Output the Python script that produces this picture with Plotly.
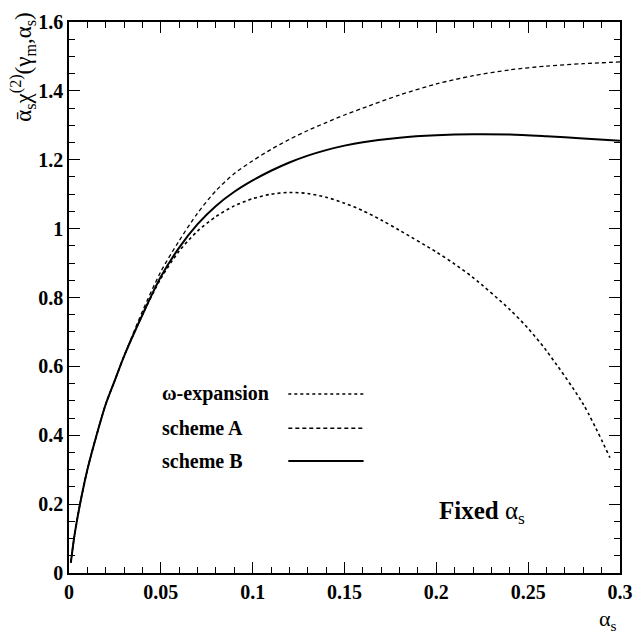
import plotly.graph_objects as go

# alpha_s values and curve values
x_low = [0.001, 0.003, 0.006, 0.01, 0.015, 0.02, 0.025, 0.03, 0.04]
y_low = [0.03, 0.11, 0.20, 0.30, 0.40, 0.49, 0.56, 0.63, 0.75]

x_b = x_low + [0.05, 0.06, 0.07, 0.08, 0.09, 0.10, 0.11, 0.12, 0.13, 0.14, 0.15, 0.16, 0.18, 0.20, 0.22, 0.24, 0.26, 0.28, 0.30]
y_b = y_low + [0.86, 0.945, 1.013, 1.066, 1.107, 1.14, 1.168, 1.192, 1.212, 1.228, 1.241, 1.251, 1.264, 1.271, 1.274, 1.273, 1.268, 1.262, 1.255]

x_a = x_low + [0.05, 0.06, 0.07, 0.08, 0.09, 0.10, 0.11, 0.12, 0.13, 0.14, 0.15, 0.16, 0.18, 0.20, 0.22, 0.24, 0.26, 0.28, 0.30]
y_a = y_low[:-1] + [0.76, 0.875, 0.965, 1.045, 1.11, 1.16, 1.197, 1.23, 1.259, 1.285, 1.308, 1.33, 1.35, 1.388, 1.42, 1.444, 1.461, 1.472, 1.479, 1.484]

x_w = x_low + [0.05, 0.06, 0.07, 0.08, 0.09, 0.10, 0.11, 0.12, 0.13, 0.14, 0.15, 0.16, 0.17, 0.18, 0.20, 0.21, 0.22, 0.24, 0.25, 0.26, 0.28, 0.2945]
y_w = y_low + [0.855, 0.935, 0.993, 1.035, 1.066, 1.087, 1.100, 1.105, 1.102, 1.091, 1.074, 1.052, 1.025, 0.995, 0.932, 0.897, 0.858, 0.765, 0.71, 0.645, 0.49, 0.335]

x_ticks = [0, 0.05, 0.1, 0.15, 0.2, 0.25, 0.3]
x_ticklabels = ["0", "0.05", "0.1", "0.15", "0.2", "0.25", "0.3"]
y_ticks = [0, 0.2, 0.4, 0.6, 0.8, 1.0, 1.2, 1.4, 1.6]
y_ticklabels = ["0", "0.2", "0.4", "0.6", "0.8", "1", "1.2", "1.4", "1.6"]

legend_names = ["ω-expansion", "scheme A", "scheme B"]
legend_dash = ["dot", "4px,3px", "solid"]
legend_y = [0.52, 0.42, 0.325]

SERIF = "Liberation Serif"

fig = go.Figure()
fig.add_trace(go.Scatter(x=x_w, y=y_w, mode="lines",
                         line=dict(color="black", width=1.6, dash="dot", shape="spline", smoothing=0.8),
                         showlegend=False))
fig.add_trace(go.Scatter(x=x_a, y=y_a, mode="lines",
                         line=dict(color="black", width=1.3, dash="4px,3px", shape="spline", smoothing=0.8),
                         showlegend=False))
fig.add_trace(go.Scatter(x=x_b, y=y_b, mode="lines",
                         line=dict(color="black", width=2, shape="spline", smoothing=0.8),
                         showlegend=False))

# legend drawn as text + line samples
for name, dash, ly in zip(legend_names, legend_dash, legend_y):
    fig.add_annotation(x=0.0496, y=ly, xref="x", yref="y", text=name, showarrow=False,
                       xanchor="left", yanchor="middle",
                       font=dict(family=SERIF, size=20, color="black", weight="bold"))
    fig.add_trace(go.Scatter(x=[0.1194, 0.1604], y=[ly, ly], mode="lines",
                             line=dict(color="black", width=2 if dash == "solid" else 1.5, dash=dash),
                             showlegend=False, hoverinfo="skip"))

fig.add_annotation(x=0.2004, y=0.175, xref="x", yref="y",
                   text="<b>Fixed</b> α<sub>s</sub>", showarrow=False,
                   xanchor="left", yanchor="middle",
                   font=dict(family=SERIF, size=25, color="black"))

# axis titles
fig.add_annotation(x=(620 - 69) / 563, y=(573 - 621) / 562, xref="paper", yref="paper",
                   text="α<sub>s</sub>", showarrow=False, xanchor="center", yanchor="middle",
                   font=dict(family=SERIF, size=22, color="black"))
fig.add_annotation(x=-(69 - 22) / 563, y=1 + 11 / 562, xref="paper", yref="paper",
                   text="ᾱ<sub>s</sub>χ<sup>(2)</sup>(γ<sub>m</sub>,α<sub>s</sub>)",
                   textangle=-90, showarrow=False, xanchor="center", yanchor="top",
                   font=dict(family=SERIF, size=23, color="black"))

axis_common = dict(
    showline=True, linecolor="black", linewidth=1.5, mirror="ticks",
    ticks="inside", ticklen=11, tickwidth=1.2, tickcolor="black",
    showgrid=False, zeroline=False,
    tickfont=dict(family=SERIF, size=20, color="black", weight="bold"),
)

fig.update_xaxes(range=[0, 0.3], tickvals=x_ticks, ticktext=x_ticklabels,
                 minor=dict(dtick=0.01, tick0=0, ticks="inside", ticklen=6, tickcolor="black", tickwidth=1),
                 **axis_common)
fig.update_yaxes(range=[0, 1.6], tickvals=y_ticks, ticktext=y_ticklabels,
                 minor=dict(dtick=0.05, tick0=0, ticks="inside", ticklen=6, tickcolor="black", tickwidth=1),
                 **axis_common)

fig.update_layout(width=644, height=635, margin=dict(l=69, r=12, t=11, b=62),
                  plot_bgcolor="white", paper_bgcolor="white", showlegend=False)

fig.write_html("out.html")
